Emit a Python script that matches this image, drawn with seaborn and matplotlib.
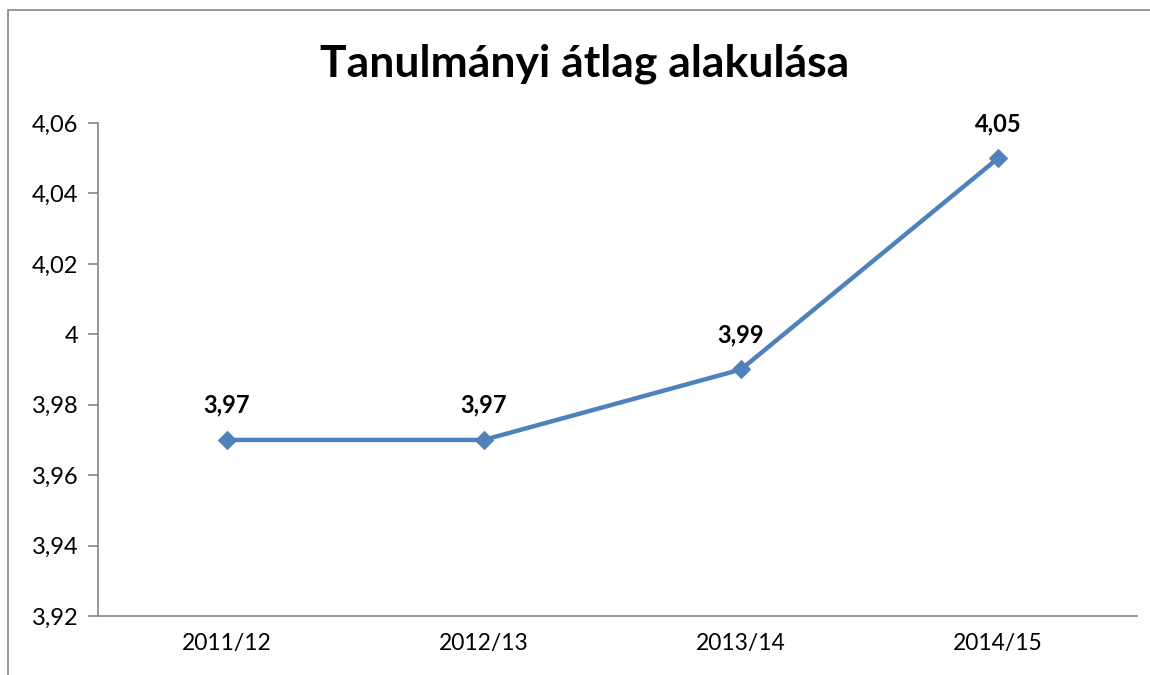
import numpy as np
import pandas as pd
import matplotlib
matplotlib.use("Agg")
import matplotlib.pyplot as plt
import seaborn as sns
from matplotlib.ticker import FuncFormatter
from matplotlib.patches import Rectangle

# adatok
tanevek = ["2011/12", "2012/13", "2013/14", "2014/15"]
atlagok = [3.97, 3.97, 3.99, 4.05]
cim = "Tanulmányi átlag alakulása"

df = pd.DataFrame({"tanev": tanevek, "atlag": atlagok})
df["pos"] = np.arange(len(tanevek))

sns.set_style("white")
plt.rcParams["font.family"] = ["Lato", "DejaVu Sans"]
plt.rcParams["text.color"] = "black"
plt.rcParams["xtick.color"] = "black"
plt.rcParams["ytick.color"] = "black"

fig = plt.figure(figsize=(11.5, 6.75), dpi=100)
ax = fig.add_axes([0.0852, 0.0874, 0.9035, 0.7304])

kek = "#4F81BD"
sns.lineplot(data=df, x="pos", y="atlag", ax=ax, color=kek, linewidth=3.2,
             marker="D", markersize=9, markeredgecolor=kek, sort=False)

ax.set_xlim(-0.5, len(tanevek) - 0.46)
ax.set_ylim(3.92, 4.06)
ax.set_yticks(np.arange(3.92, 4.061, 0.02))
ax.set_xticks(df["pos"])
ax.set_xticklabels(tanevek)

def vesszo(v, _):
    s = f"{v:.2f}".rstrip("0").rstrip(".")
    return s.replace(".", ",")

ax.yaxis.set_major_formatter(FuncFormatter(vesszo))
ax.set_xlabel("")
ax.set_ylabel("")

for side in ["top", "right"]:
    ax.spines[side].set_visible(False)
for side in ["left", "bottom"]:
    ax.spines[side].set_color("#868686")
    ax.spines[side].set_linewidth(1.2)

ax.tick_params(axis="y", length=7, width=1.2, color="#868686", labelsize=17, pad=7, left=True,
               labelcolor="black")
ax.tick_params(axis="x", length=0, labelsize=16.5, pad=12, labelcolor="black")

# értékcímkék a pontok fölött
for x, y in zip(df["pos"], df["atlag"]):
    ax.annotate(f"{y:.2f}".replace(".", ","), (x, y), xytext=(0, 25),
                textcoords="offset points", ha="center", va="center",
                fontsize=17, fontweight="bold", color="black")

fig.text(0.508, 0.905, cim, ha="center", va="center", fontsize=32, fontweight="bold",
         color="black")

# külső keret
fig.patches.append(Rectangle((8 / 1150, -0.1), 1.2, 0.1 + 665 / 675, transform=fig.transFigure,
                             fill=False, edgecolor="#868686", linewidth=1.2))

fig.savefig("out.png", dpi=100)
